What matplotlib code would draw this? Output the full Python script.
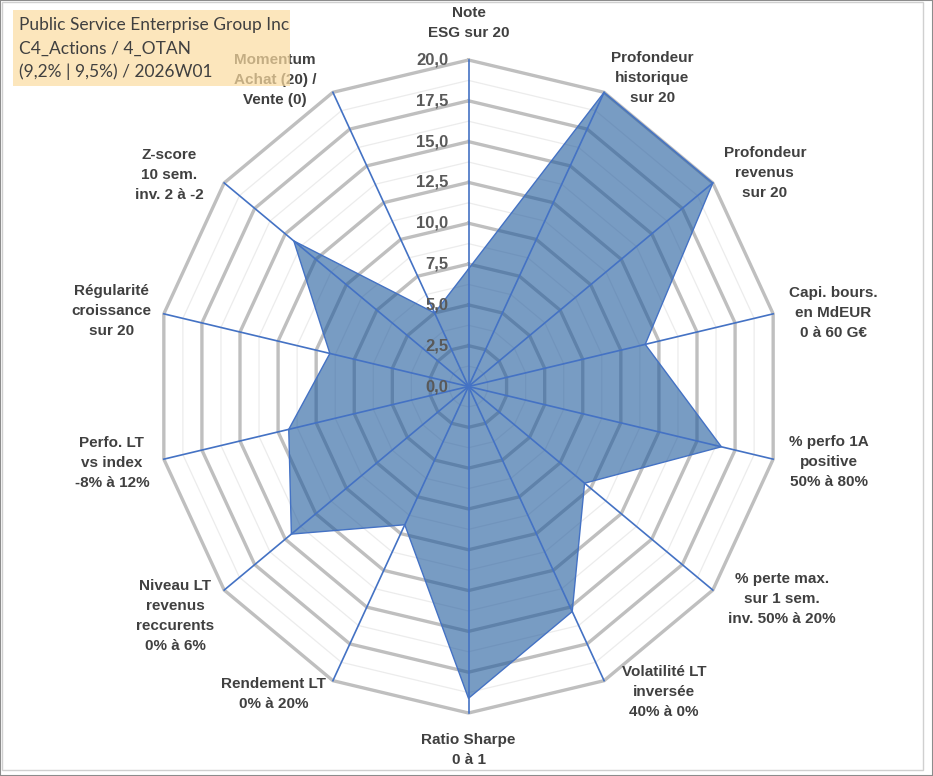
import numpy as np
import matplotlib
matplotlib.use('Agg')
import matplotlib.pyplot as plt
from matplotlib.patches import Rectangle

# data
categories = ['Note\nESG sur 20',
              'Profondeur\nhistorique\nsur 20',
              'Profondeur\nrevenus\nsur 20',
              'Capi. bours.\nen MdEUR\n0 à 60 G€',
              '% perfo 1A\npositive\n50% à 80%',
              '% perte max.\nsur 1 sem.\ninv. 50% à 20%',
              'Volatilité LT\ninversée\n40% à 0%',
              'Ratio Sharpe\n0 à 1',
              'Rendement LT\n0% à 20%',
              'Niveau LT\nrevenus\nreccurents\n0% à 6%',
              'Perfo. LT\nvs index\n-8% à 12%',
              'Régularité\ncroissance\nsur 20',
              'Z-score\n10 sem.\ninv. 2 à -2',
              'Momentum\nAchat (20) /\nVente (0)']
values = [7.2, 20.0, 20.0, 11.6, 16.6, 9.5, 15.3, 19.1, 9.4, 14.5, 11.8, 9.1, 14.3, 5.0]
ticks = [0, 2.5, 5, 7.5, 10, 12.5, 15, 17.5, 20]
title_lines = ['Public Service Enterprise Group Inc',
               'C4_Actions / 4_OTAN',
               '(9,2% | 9,5%) / 2026W01']

RMAX = 20
W, H = 933, 776
CX, CY = 468.5, 386.5      # centre du radar en pixels
SX, SY = 312.5, 326.5      # rayon en pixels (image un peu ecrasee en largeur)

# decalage des etiquettes par rapport au bout de chaque axe (pixels, y vers le bas)
label_offsets = [(0, -37), (48, -14), (52, -10), (60, -1), (56, 3), (69, 9), (60, 11),
                 (0, 37), (-59, 13), (-49, 26), (-52, 4), (-52, -3), (-55, -8), (-58, -12)]

n = len(categories)
theta = 2 * np.pi * np.arange(n) / n
sx, sy = np.sin(theta), np.cos(theta)

fig = plt.figure(figsize=(W / 100, H / 100), dpi=100)
ax = fig.add_axes([0, 0, 1, 1])
ax.set_xlim(-CX / SX * RMAX, (W - CX) / SX * RMAX)
ax.set_ylim(-(H - CY) / SY * RMAX, CY / SY * RMAX)
ax.axis('off')

# grille polygonale
for r in np.arange(1.25, RMAX + 0.01, 1.25):
    xs = np.append(r * sx, r * sx[0])
    ys = np.append(r * sy, r * sy[0])
    if abs(r / 2.5 - round(r / 2.5)) < 1e-6:
        ax.plot(xs, ys, color='#bfbfbf', lw=2.4, zorder=1, solid_joinstyle='miter')
    else:
        ax.plot(xs, ys, color='#ececec', lw=0.9, zorder=1)

# serie
v = np.array(values)
px = np.append(v * sx, v[0] * sx[0])
py = np.append(v * sy, v[0] * sy[0])
ax.fill(px, py, color='#1f5a9c', alpha=0.6, lw=0, zorder=2)
ax.plot(px, py, color='#4472c4', lw=1.0, zorder=3)

# rayons
for i in range(n):
    ax.plot([0, RMAX * sx[i]], [0, RMAX * sy[i]], color='#4472c4', lw=1.2, zorder=4)

# graduations
for t in ticks:
    ax.annotate(f'{t:.1f}'.replace('.', ','), xy=(0, t), xytext=(-20, 0),
                textcoords='offset pixels', ha='right', va='center',
                fontsize=12, fontweight='bold', color='#595959',
                family='Liberation Sans', zorder=5)

# etiquettes des axes
for i, lab in enumerate(categories):
    dx, dy = label_offsets[i]
    ax.annotate(lab, xy=(RMAX * sx[i], RMAX * sy[i]), xytext=(dx, -dy),
                textcoords='offset pixels', ha='center', va='center',
                multialignment='center', linespacing=1.55,
                fontsize=11, fontweight='bold', color='#404040',
                family='Liberation Sans', zorder=5)

# cadre
fig.add_artist(Rectangle((2 / W, 1 - 770 / H), 921 / W, 768 / H, transform=fig.transFigure,
                         fill=False, edgecolor='#d0d0d0', lw=1))
fig.add_artist(Rectangle((0, 0), 1, 1, transform=fig.transFigure,
                         fill=False, edgecolor='#8c8c8c', lw=1.5))

# encart titre
fig.add_artist(Rectangle((13 / W, 1 - 86 / H), 277 / W, 76 / H, transform=fig.transFigure,
                         facecolor='#fcdca0', edgecolor='none', alpha=0.7, zorder=6))
for j, line in enumerate(title_lines):
    fig.text(19 / W, 1 - (25 + 23.5 * j) / H, line, ha='left', va='center',
             fontsize=12.5, color='#404040', family='Lato', zorder=7)

fig.savefig('out.png', dpi=100)
